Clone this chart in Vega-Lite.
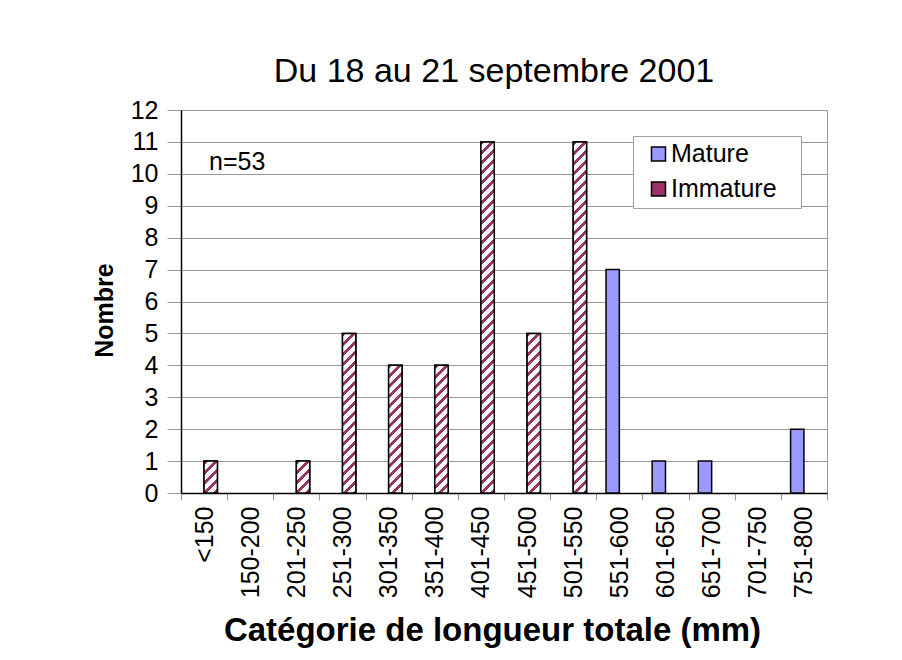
{
 "$schema": "https://vega.github.io/schema/vega-lite/v6.json",
 "width": 646, "height": 383,
 "autosize": {"type": "none"},
 "padding": {"left": 181, "top": 110, "right": 75, "bottom": 167},
 "background": "white",
 "config": {
  "font": "Liberation Sans",
  "view": {"stroke": "#999999", "strokeWidth": 1},
  "axis": {"labelColor": "black", "titleColor": "black", "labelFont": "Liberation Sans", "titleFont": "Liberation Sans"},
  "legend": {"labelFont": "Liberation Sans"}
 },
 "title": {"text": "Du 18 au 21 septembre 2001", "fontSize": 34, "fontWeight": "normal", "font": "Liberation Sans", "color": "black", "anchor": "middle", "dx": -10, "offset": 9},
 "data": {"values": [
  {"Categorie": "<150", "Stade": "Mature", "Nombre": 0},
  {"Categorie": "<150", "Stade": "Immature", "Nombre": 1},
  {"Categorie": "150-200", "Stade": "Mature", "Nombre": 0},
  {"Categorie": "150-200", "Stade": "Immature", "Nombre": 0},
  {"Categorie": "201-250", "Stade": "Mature", "Nombre": 0},
  {"Categorie": "201-250", "Stade": "Immature", "Nombre": 1},
  {"Categorie": "251-300", "Stade": "Mature", "Nombre": 0},
  {"Categorie": "251-300", "Stade": "Immature", "Nombre": 5},
  {"Categorie": "301-350", "Stade": "Mature", "Nombre": 0},
  {"Categorie": "301-350", "Stade": "Immature", "Nombre": 4},
  {"Categorie": "351-400", "Stade": "Mature", "Nombre": 0},
  {"Categorie": "351-400", "Stade": "Immature", "Nombre": 4},
  {"Categorie": "401-450", "Stade": "Mature", "Nombre": 0},
  {"Categorie": "401-450", "Stade": "Immature", "Nombre": 11},
  {"Categorie": "451-500", "Stade": "Mature", "Nombre": 0},
  {"Categorie": "451-500", "Stade": "Immature", "Nombre": 5},
  {"Categorie": "501-550", "Stade": "Mature", "Nombre": 0},
  {"Categorie": "501-550", "Stade": "Immature", "Nombre": 11},
  {"Categorie": "551-600", "Stade": "Mature", "Nombre": 7},
  {"Categorie": "551-600", "Stade": "Immature", "Nombre": 0},
  {"Categorie": "601-650", "Stade": "Mature", "Nombre": 1},
  {"Categorie": "601-650", "Stade": "Immature", "Nombre": 0},
  {"Categorie": "651-700", "Stade": "Mature", "Nombre": 1},
  {"Categorie": "651-700", "Stade": "Immature", "Nombre": 0},
  {"Categorie": "701-750", "Stade": "Mature", "Nombre": 0},
  {"Categorie": "701-750", "Stade": "Immature", "Nombre": 0},
  {"Categorie": "751-800", "Stade": "Mature", "Nombre": 2},
  {"Categorie": "751-800", "Stade": "Immature", "Nombre": 0}
 ]},
 "encoding": {
  "x": {"field": "Categorie", "type": "nominal", "sort": null,
   "scale": {"domain": ["<150", "150-200", "201-250", "251-300", "301-350", "351-400", "401-450", "451-500", "501-550", "551-600", "601-650", "651-700", "701-750", "751-800"], "paddingInner": 0, "paddingOuter": 0},
   "axis": {"title": "Catégorie de longueur totale (mm)", "labelAngle": -90, "labelAlign": "right", "labelBaseline": "middle", "labelFontSize": 25, "labelPadding": 6, "tickSize": 7, "tickColor": "#999999", "tickBand": "extent", "domainColor": "black", "domainWidth": 1.5, "grid": false, "titleFontSize": 33, "titleFontWeight": "bold", "titleX": 311, "titleY": 147, "titleBaseline": "alphabetic"}},
  "y": {"field": "Nombre", "type": "quantitative", "scale": {"domain": [0, 12], "nice": false},
   "axis": {"title": "Nombre", "values": [0, 1, 2, 3, 4, 5, 6, 7, 8, 9, 10, 11, 12], "grid": true, "gridColor": "#999999", "gridWidth": 1, "domainColor": "black", "domainWidth": 1.5, "tickColor": "#999999", "tickSize": 14, "labelFontSize": 25, "labelPadding": 9, "titleFontSize": 25, "titleFontWeight": "bold", "titleX": -77, "titleY": 200, "titleBaseline": "middle", "titleAngle": 270}}
 },
 "layer": [
  {
   "transform": [{"filter": "datum.Nombre > 0"}],
   "mark": {"type": "bar", "stroke": "black", "strokeWidth": 1.5},
   "encoding": {
    "xOffset": {"field": "Stade", "type": "nominal", "scale": {"domain": ["Mature", "Immature"], "paddingInner": 0, "paddingOuter": 0.73}},
    "fill": {"field": "Stade", "type": "nominal",
     "scale": {"domain": ["Mature", "Immature"], "range": ["#9999FF", "#993366"]},
     "legend": {"title": null, "orient": "top-right", "offset": 26, "padding": 5.5, "symbolOffset": 7.5, "symbolType": "square", "symbolSize": 196, "symbolStrokeColor": "black", "symbolStrokeWidth": 1.5, "labelFontSize": 25, "labelOffset": 0, "rowPadding": 9, "strokeColor": "#A0A0A0", "fillColor": "white", "labelColor": "black", "labelExpr": "datum.label + '⠀'"}}
   }
  },
  {
   "transform": [{"filter": "datum.Nombre > 0 && datum.Stade == 'Immature'"}],
   "mark": {"type": "bar", "stroke": "black", "strokeWidth": 1.5},
   "encoding": {
    "xOffset": {"field": "Stade", "type": "nominal", "scale": {"domain": ["Mature", "Immature"], "paddingInner": 0, "paddingOuter": 0.73}},
    "fill": {"condition": [
     {"test": "datum.Nombre == 1", "value": {"gradient": "linear", "x1": 0, "y1": 0, "x2": 0.5044, "y2": 1.2070, "stops": [
      {"offset": 0, "color": "#993366"}, {"offset": 0.0884, "color": "#993366"}, {"offset": 0.0884, "color": "#ffffff"}, {"offset": 0.2209, "color": "#ffffff"},
      {"offset": 0.2209, "color": "#993366"}, {"offset": 0.3093, "color": "#993366"}, {"offset": 0.3093, "color": "#ffffff"}, {"offset": 0.4419, "color": "#ffffff"},
      {"offset": 0.4419, "color": "#993366"}, {"offset": 0.5303, "color": "#993366"}, {"offset": 0.5303, "color": "#ffffff"}, {"offset": 0.6628, "color": "#ffffff"},
      {"offset": 0.6628, "color": "#993366"}, {"offset": 0.7512, "color": "#993366"}, {"offset": 0.7512, "color": "#ffffff"}, {"offset": 0.8838, "color": "#ffffff"},
      {"offset": 0.8838, "color": "#993366"}, {"offset": 0.9722, "color": "#993366"}, {"offset": 0.9722, "color": "#ffffff"}, {"offset": 1, "color": "#ffffff"}]}},
     {"test": "datum.Nombre == 4", "value": {"gradient": "linear", "x1": 0, "y1": 0, "x2": 0.1142, "y2": 1.0926, "stops": [
      {"offset": 0, "color": "#993366"}, {"offset": 0.0284, "color": "#993366"}, {"offset": 0.0284, "color": "#ffffff"}, {"offset": 0.0709, "color": "#ffffff"},
      {"offset": 0.0709, "color": "#993366"}, {"offset": 0.0993, "color": "#993366"}, {"offset": 0.0993, "color": "#ffffff"}, {"offset": 0.1418, "color": "#ffffff"},
      {"offset": 0.1418, "color": "#993366"}, {"offset": 0.1702, "color": "#993366"}, {"offset": 0.1702, "color": "#ffffff"}, {"offset": 0.2128, "color": "#ffffff"},
      {"offset": 0.2128, "color": "#993366"}, {"offset": 0.2411, "color": "#993366"}, {"offset": 0.2411, "color": "#ffffff"}, {"offset": 0.2837, "color": "#ffffff"},
      {"offset": 0.2837, "color": "#993366"}, {"offset": 0.3120, "color": "#993366"}, {"offset": 0.3120, "color": "#ffffff"}, {"offset": 0.3546, "color": "#ffffff"},
      {"offset": 0.3546, "color": "#993366"}, {"offset": 0.3830, "color": "#993366"}, {"offset": 0.3830, "color": "#ffffff"}, {"offset": 0.4255, "color": "#ffffff"},
      {"offset": 0.4255, "color": "#993366"}, {"offset": 0.4539, "color": "#993366"}, {"offset": 0.4539, "color": "#ffffff"}, {"offset": 0.4964, "color": "#ffffff"},
      {"offset": 0.4964, "color": "#993366"}, {"offset": 0.5248, "color": "#993366"}, {"offset": 0.5248, "color": "#ffffff"}, {"offset": 0.5673, "color": "#ffffff"},
      {"offset": 0.5673, "color": "#993366"}, {"offset": 0.5957, "color": "#993366"}, {"offset": 0.5957, "color": "#ffffff"}, {"offset": 0.6383, "color": "#ffffff"},
      {"offset": 0.6383, "color": "#993366"}, {"offset": 0.6666, "color": "#993366"}, {"offset": 0.6666, "color": "#ffffff"}, {"offset": 0.7092, "color": "#ffffff"},
      {"offset": 0.7092, "color": "#993366"}, {"offset": 0.7375, "color": "#993366"}, {"offset": 0.7375, "color": "#ffffff"}, {"offset": 0.7801, "color": "#ffffff"},
      {"offset": 0.7801, "color": "#993366"}, {"offset": 0.8084, "color": "#993366"}, {"offset": 0.8084, "color": "#ffffff"}, {"offset": 0.8510, "color": "#ffffff"},
      {"offset": 0.8510, "color": "#993366"}, {"offset": 0.8794, "color": "#993366"}, {"offset": 0.8794, "color": "#ffffff"}, {"offset": 0.9219, "color": "#ffffff"},
      {"offset": 0.9219, "color": "#993366"}, {"offset": 0.9503, "color": "#993366"}, {"offset": 0.9503, "color": "#ffffff"}, {"offset": 0.9928, "color": "#ffffff"},
      {"offset": 0.9928, "color": "#993366"}, {"offset": 1, "color": "#993366"}]}},
     {"test": "datum.Nombre == 5", "value": {"gradient": "linear", "x1": 0, "y1": 0, "x2": 0.0900, "y2": 1.0761, "stops": [
      {"offset": 0, "color": "#993366"}, {"offset": 0.0231, "color": "#993366"}, {"offset": 0.0231, "color": "#ffffff"}, {"offset": 0.0578, "color": "#ffffff"},
      {"offset": 0.0578, "color": "#993366"}, {"offset": 0.0810, "color": "#993366"}, {"offset": 0.0810, "color": "#ffffff"}, {"offset": 0.1157, "color": "#ffffff"},
      {"offset": 0.1157, "color": "#993366"}, {"offset": 0.1388, "color": "#993366"}, {"offset": 0.1388, "color": "#ffffff"}, {"offset": 0.1735, "color": "#ffffff"},
      {"offset": 0.1735, "color": "#993366"}, {"offset": 0.1966, "color": "#993366"}, {"offset": 0.1966, "color": "#ffffff"}, {"offset": 0.2313, "color": "#ffffff"},
      {"offset": 0.2313, "color": "#993366"}, {"offset": 0.2545, "color": "#993366"}, {"offset": 0.2545, "color": "#ffffff"}, {"offset": 0.2892, "color": "#ffffff"},
      {"offset": 0.2892, "color": "#993366"}, {"offset": 0.3123, "color": "#993366"}, {"offset": 0.3123, "color": "#ffffff"}, {"offset": 0.3470, "color": "#ffffff"},
      {"offset": 0.3470, "color": "#993366"}, {"offset": 0.3701, "color": "#993366"}, {"offset": 0.3701, "color": "#ffffff"}, {"offset": 0.4048, "color": "#ffffff"},
      {"offset": 0.4048, "color": "#993366"}, {"offset": 0.4279, "color": "#993366"}, {"offset": 0.4279, "color": "#ffffff"}, {"offset": 0.4626, "color": "#ffffff"},
      {"offset": 0.4626, "color": "#993366"}, {"offset": 0.4858, "color": "#993366"}, {"offset": 0.4858, "color": "#ffffff"}, {"offset": 0.5205, "color": "#ffffff"},
      {"offset": 0.5205, "color": "#993366"}, {"offset": 0.5436, "color": "#993366"}, {"offset": 0.5436, "color": "#ffffff"}, {"offset": 0.5783, "color": "#ffffff"},
      {"offset": 0.5783, "color": "#993366"}, {"offset": 0.6014, "color": "#993366"}, {"offset": 0.6014, "color": "#ffffff"}, {"offset": 0.6361, "color": "#ffffff"},
      {"offset": 0.6361, "color": "#993366"}, {"offset": 0.6593, "color": "#993366"}, {"offset": 0.6593, "color": "#ffffff"}, {"offset": 0.6940, "color": "#ffffff"},
      {"offset": 0.6940, "color": "#993366"}, {"offset": 0.7171, "color": "#993366"}, {"offset": 0.7171, "color": "#ffffff"}, {"offset": 0.7518, "color": "#ffffff"},
      {"offset": 0.7518, "color": "#993366"}, {"offset": 0.7749, "color": "#993366"}, {"offset": 0.7749, "color": "#ffffff"}, {"offset": 0.8096, "color": "#ffffff"},
      {"offset": 0.8096, "color": "#993366"}, {"offset": 0.8327, "color": "#993366"}, {"offset": 0.8327, "color": "#ffffff"}, {"offset": 0.8675, "color": "#ffffff"},
      {"offset": 0.8675, "color": "#993366"}, {"offset": 0.8906, "color": "#993366"}, {"offset": 0.8906, "color": "#ffffff"}, {"offset": 0.9253, "color": "#ffffff"},
      {"offset": 0.9253, "color": "#993366"}, {"offset": 0.9484, "color": "#993366"}, {"offset": 0.9484, "color": "#ffffff"}, {"offset": 0.9831, "color": "#ffffff"},
      {"offset": 0.9831, "color": "#993366"}, {"offset": 1, "color": "#993366"}]}},
     {"test": "datum.Nombre == 11", "value": {"gradient": "linear", "x1": 0, "y1": 0, "x2": 0.0394, "y2": 1.0365, "stops": [
      {"offset": 0, "color": "#993366"}, {"offset": 0.01098, "color": "#993366"}, {"offset": 0.01098, "color": "#ffffff"}, {"offset": 0.02744, "color": "#ffffff"},
      {"offset": 0.02744, "color": "#993366"}, {"offset": 0.03842, "color": "#993366"}, {"offset": 0.03842, "color": "#ffffff"}, {"offset": 0.05488, "color": "#ffffff"},
      {"offset": 0.05488, "color": "#993366"}, {"offset": 0.06586, "color": "#993366"}, {"offset": 0.06586, "color": "#ffffff"}, {"offset": 0.08232, "color": "#ffffff"},
      {"offset": 0.08232, "color": "#993366"}, {"offset": 0.09330, "color": "#993366"}, {"offset": 0.09330, "color": "#ffffff"}, {"offset": 0.10976, "color": "#ffffff"},
      {"offset": 0.10976, "color": "#993366"}, {"offset": 0.12074, "color": "#993366"}, {"offset": 0.12074, "color": "#ffffff"}, {"offset": 0.13720, "color": "#ffffff"},
      {"offset": 0.13720, "color": "#993366"}, {"offset": 0.14818, "color": "#993366"}, {"offset": 0.14818, "color": "#ffffff"}, {"offset": 0.16465, "color": "#ffffff"},
      {"offset": 0.16465, "color": "#993366"}, {"offset": 0.17562, "color": "#993366"}, {"offset": 0.17562, "color": "#ffffff"}, {"offset": 0.19209, "color": "#ffffff"},
      {"offset": 0.19209, "color": "#993366"}, {"offset": 0.20306, "color": "#993366"}, {"offset": 0.20306, "color": "#ffffff"}, {"offset": 0.21953, "color": "#ffffff"},
      {"offset": 0.21953, "color": "#993366"}, {"offset": 0.23051, "color": "#993366"}, {"offset": 0.23051, "color": "#ffffff"}, {"offset": 0.24697, "color": "#ffffff"},
      {"offset": 0.24697, "color": "#993366"}, {"offset": 0.25795, "color": "#993366"}, {"offset": 0.25795, "color": "#ffffff"}, {"offset": 0.27441, "color": "#ffffff"},
      {"offset": 0.27441, "color": "#993366"}, {"offset": 0.28539, "color": "#993366"}, {"offset": 0.28539, "color": "#ffffff"}, {"offset": 0.30185, "color": "#ffffff"},
      {"offset": 0.30185, "color": "#993366"}, {"offset": 0.31283, "color": "#993366"}, {"offset": 0.31283, "color": "#ffffff"}, {"offset": 0.32929, "color": "#ffffff"},
      {"offset": 0.32929, "color": "#993366"}, {"offset": 0.34027, "color": "#993366"}, {"offset": 0.34027, "color": "#ffffff"}, {"offset": 0.35673, "color": "#ffffff"},
      {"offset": 0.35673, "color": "#993366"}, {"offset": 0.36771, "color": "#993366"}, {"offset": 0.36771, "color": "#ffffff"}, {"offset": 0.38417, "color": "#ffffff"},
      {"offset": 0.38417, "color": "#993366"}, {"offset": 0.39515, "color": "#993366"}, {"offset": 0.39515, "color": "#ffffff"}, {"offset": 0.41161, "color": "#ffffff"},
      {"offset": 0.41161, "color": "#993366"}, {"offset": 0.42259, "color": "#993366"}, {"offset": 0.42259, "color": "#ffffff"}, {"offset": 0.43906, "color": "#ffffff"},
      {"offset": 0.43906, "color": "#993366"}, {"offset": 0.45003, "color": "#993366"}, {"offset": 0.45003, "color": "#ffffff"}, {"offset": 0.46650, "color": "#ffffff"},
      {"offset": 0.46650, "color": "#993366"}, {"offset": 0.47747, "color": "#993366"}, {"offset": 0.47747, "color": "#ffffff"}, {"offset": 0.49394, "color": "#ffffff"},
      {"offset": 0.49394, "color": "#993366"}, {"offset": 0.50492, "color": "#993366"}, {"offset": 0.50492, "color": "#ffffff"}, {"offset": 0.52138, "color": "#ffffff"},
      {"offset": 0.52138, "color": "#993366"}, {"offset": 0.53236, "color": "#993366"}, {"offset": 0.53236, "color": "#ffffff"}, {"offset": 0.54882, "color": "#ffffff"},
      {"offset": 0.54882, "color": "#993366"}, {"offset": 0.55980, "color": "#993366"}, {"offset": 0.55980, "color": "#ffffff"}, {"offset": 0.57626, "color": "#ffffff"},
      {"offset": 0.57626, "color": "#993366"}, {"offset": 0.58724, "color": "#993366"}, {"offset": 0.58724, "color": "#ffffff"}, {"offset": 0.60370, "color": "#ffffff"},
      {"offset": 0.60370, "color": "#993366"}, {"offset": 0.61468, "color": "#993366"}, {"offset": 0.61468, "color": "#ffffff"}, {"offset": 0.63114, "color": "#ffffff"},
      {"offset": 0.63114, "color": "#993366"}, {"offset": 0.64212, "color": "#993366"}, {"offset": 0.64212, "color": "#ffffff"}, {"offset": 0.65858, "color": "#ffffff"},
      {"offset": 0.65858, "color": "#993366"}, {"offset": 0.66956, "color": "#993366"}, {"offset": 0.66956, "color": "#ffffff"}, {"offset": 0.68602, "color": "#ffffff"},
      {"offset": 0.68602, "color": "#993366"}, {"offset": 0.69700, "color": "#993366"}, {"offset": 0.69700, "color": "#ffffff"}, {"offset": 0.71347, "color": "#ffffff"},
      {"offset": 0.71347, "color": "#993366"}, {"offset": 0.72444, "color": "#993366"}, {"offset": 0.72444, "color": "#ffffff"}, {"offset": 0.74091, "color": "#ffffff"},
      {"offset": 0.74091, "color": "#993366"}, {"offset": 0.75189, "color": "#993366"}, {"offset": 0.75189, "color": "#ffffff"}, {"offset": 0.76835, "color": "#ffffff"},
      {"offset": 0.76835, "color": "#993366"}, {"offset": 0.77933, "color": "#993366"}, {"offset": 0.77933, "color": "#ffffff"}, {"offset": 0.79579, "color": "#ffffff"},
      {"offset": 0.79579, "color": "#993366"}, {"offset": 0.80677, "color": "#993366"}, {"offset": 0.80677, "color": "#ffffff"}, {"offset": 0.82323, "color": "#ffffff"},
      {"offset": 0.82323, "color": "#993366"}, {"offset": 0.83421, "color": "#993366"}, {"offset": 0.83421, "color": "#ffffff"}, {"offset": 0.85067, "color": "#ffffff"},
      {"offset": 0.85067, "color": "#993366"}, {"offset": 0.86165, "color": "#993366"}, {"offset": 0.86165, "color": "#ffffff"}, {"offset": 0.87811, "color": "#ffffff"},
      {"offset": 0.87811, "color": "#993366"}, {"offset": 0.88909, "color": "#993366"}, {"offset": 0.88909, "color": "#ffffff"}, {"offset": 0.90555, "color": "#ffffff"},
      {"offset": 0.90555, "color": "#993366"}, {"offset": 0.91653, "color": "#993366"}, {"offset": 0.91653, "color": "#ffffff"}, {"offset": 0.93299, "color": "#ffffff"},
      {"offset": 0.93299, "color": "#993366"}, {"offset": 0.94397, "color": "#993366"}, {"offset": 0.94397, "color": "#ffffff"}, {"offset": 0.96043, "color": "#ffffff"},
      {"offset": 0.96043, "color": "#993366"}, {"offset": 0.97141, "color": "#993366"}, {"offset": 0.97141, "color": "#ffffff"}, {"offset": 0.98788, "color": "#ffffff"},
      {"offset": 0.98788, "color": "#993366"}, {"offset": 0.99886, "color": "#993366"}, {"offset": 0.99886, "color": "#ffffff"}, {"offset": 1, "color": "#ffffff"}]}}
    ], "value": "#993366"}
   }
  },
  {
   "transform": [{"filter": "datum.Categorie == '<150' && datum.Stade == 'Immature'"}],
   "mark": {"type": "text", "align": "left", "baseline": "alphabetic", "fontSize": 25, "dx": 5, "color": "black", "font": "Liberation Sans"},
   "encoding": {
    "y": {"datum": 10.12},
    "text": {"value": "n=53"}
   }
  }
 ]
}
